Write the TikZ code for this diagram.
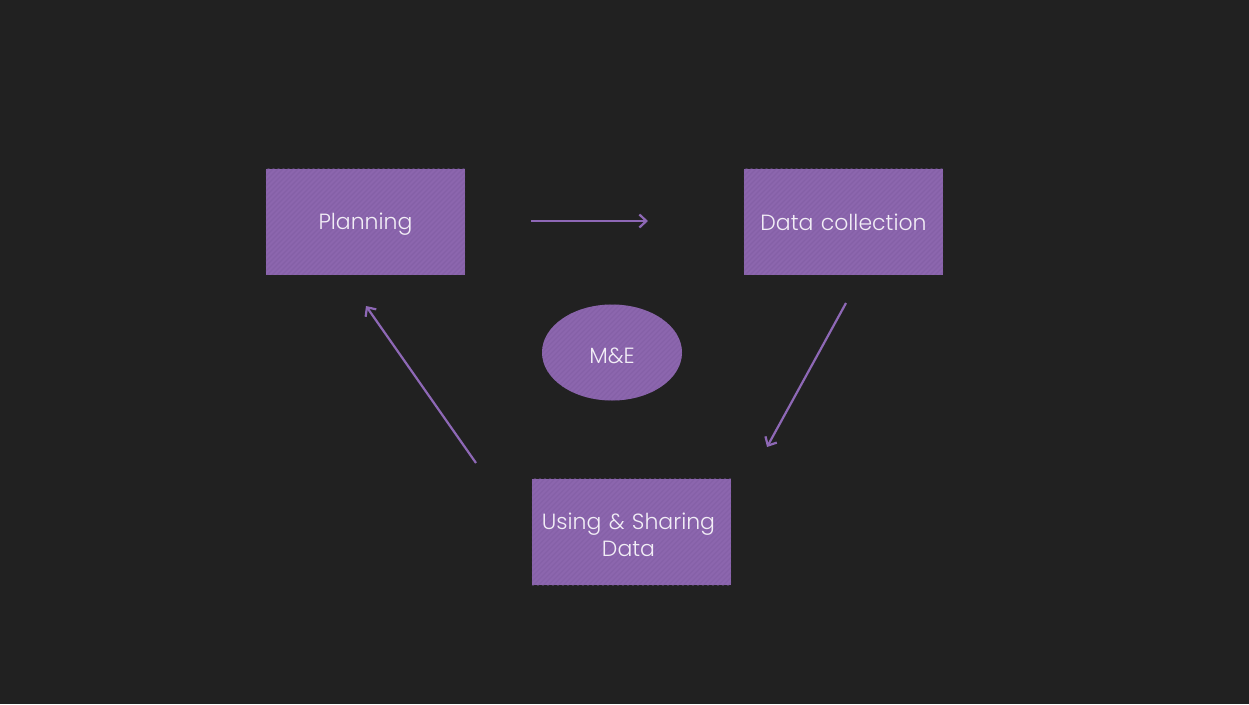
\documentclass[tikz,border=0pt]{standalone}
\usepackage{fontspec}
\setmainfont{Poppins}[UprightFont=* Light]
\usetikzlibrary{arrows.meta,shapes.geometric}
\definecolor{bg}{HTML}{212121}
\definecolor{boxfill}{HTML}{8C66AE}
\definecolor{stripe}{HTML}{7E5AA0}
\definecolor{arrowc}{HTML}{8E68B6}
\definecolor{txt}{HTML}{F2EEF6}
\tikzset{
  stage/.style={rectangle, fill=boxfill, minimum width=199pt, minimum height=106pt,
    inner sep=3pt, text=txt, align=center, text width=193pt,
    font=\fontsize{22pt}{27pt}\selectfont},
  hub/.style={ellipse, fill=boxfill, minimum width=140pt, minimum height=96pt,
    inner sep=0pt, text=txt, font=\fontsize{22pt}{27pt}\selectfont},
  flow/.style={draw=arrowc, line width=2.2pt, -{Straight Barb[length=7pt,width=13pt,line width=2.2pt]}},
}
% diagonal stripes over a filled shape
\newcommand{\stripes}[1]{%
  \begin{scope}
    \clip (#1.south west) rectangle (#1.north east);
    \foreach \k in {-300,-295,...,300}
      \draw[stripe, line width=1.2pt, opacity=0.45]
        ([xshift=\k pt]#1.center) ++(-150pt,-150pt) -- ++(300pt,300pt);
  \end{scope}}
\newcommand{\stripesell}[1]{%
  \begin{scope}
    \clip (#1.center) ellipse [x radius=70pt, y radius=48pt];
    \foreach \k in {-300,-295,...,300}
      \draw[stripe, line width=1.2pt, opacity=0.45]
        ([xshift=\k pt]#1.center) ++(-150pt,-150pt) -- ++(300pt,300pt);
  \end{scope}}
\begin{document}
\begin{tikzpicture}[x=1pt,y=-1pt]
  \fill[bg] (0,0) rectangle (1249,704);
  \useasboundingbox (0,0) rectangle (1249,704);

  % stages of the cycle
  \node[stage] (plan) at (365.5,221.5) {};
  \stripes{plan}
  \node[stage, fill=none] (planT) at ([yshift=-3pt]plan.center) {Planning};

  \node[stage] (collect) at (843.5,221.5) {};
  \stripes{collect}
  \node[stage, fill=none] (collectT) at ([yshift=-1pt]collect.center) {Data collection};

  \node[stage] (use) at (631.5,532) {};
  \stripes{use}
  \node[stage, fill=none] (useT) at ([xshift=-3pt,yshift=-3pt]use.center) {Using \& Sharing\\Data};

  \node[hub] (me) at (612,352.5) {};
  \stripesell{me}
  \node[hub, fill=none] (meT) at ([yshift=-3pt]me.center) {M\&E};

  % arrow end points
  \coordinate (a1s) at (531,221);
  \coordinate (a1e) at (648,221);
  \coordinate (a2s) at (846,303);
  \coordinate (a2e) at (767,447);
  \coordinate (a3s) at (476,463);
  \coordinate (a3e) at (366,306);

  \draw[flow] (a1s) -- (a1e);
  \draw[flow] (a2s) -- (a2e);
  \draw[flow] (a3s) -- (a3e);
\end{tikzpicture}
\end{document}
